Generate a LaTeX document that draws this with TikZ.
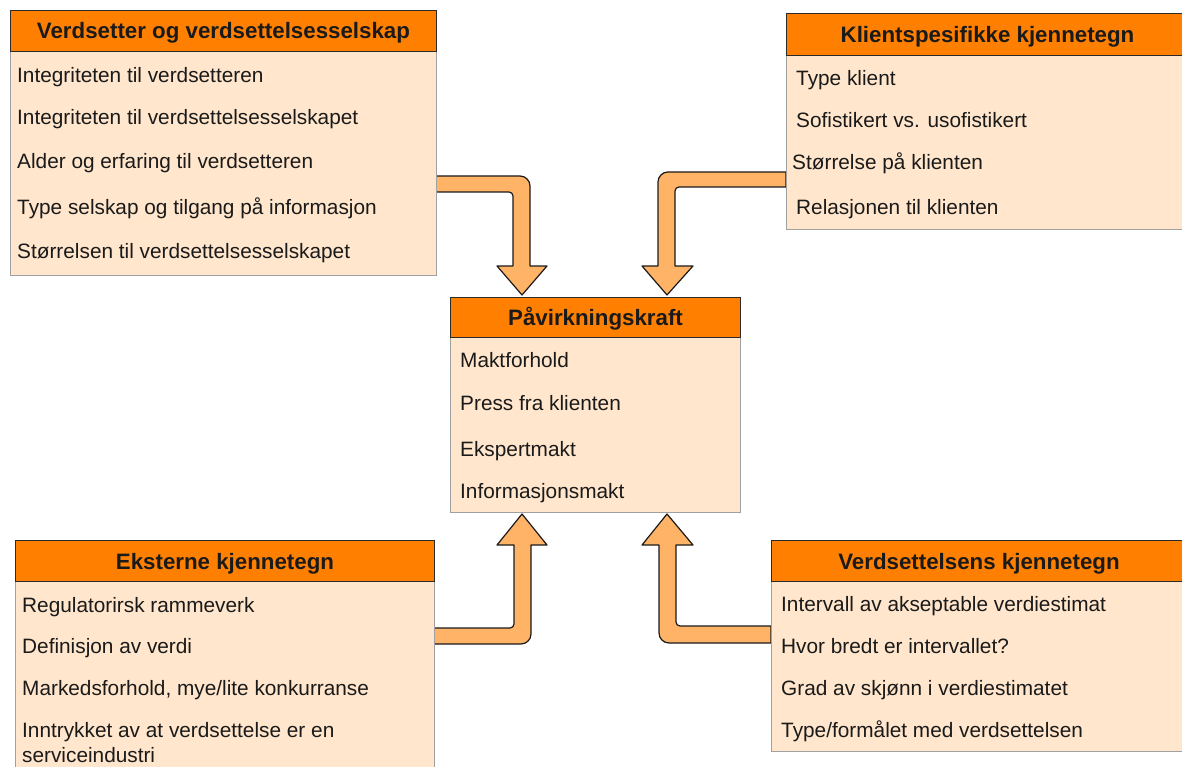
\documentclass[tikz,border=0pt]{standalone}
\usepackage{fontspec}
\setmainfont{Liberation Sans}
\definecolor{hdrfill}{HTML}{FF8000}
\definecolor{hdrline}{HTML}{2B2B2B}
\definecolor{bodyfill}{HTML}{FFE6CC}
\definecolor{bodyline}{HTML}{A0A0A0}
\definecolor{arrfill}{HTML}{FFB366}
\definecolor{arrline}{HTML}{1A1A1A}
\definecolor{txt}{HTML}{1A1A1A}
\tikzset{
  hdr/.style={draw=hdrline, fill=hdrfill, line width=1pt, inner sep=0pt,
    font=\bfseries\fontsize{22.3}{26}\selectfont, text=txt, text height=16pt, text depth=0pt},
  bodybox/.style={draw=bodyline, fill=bodyfill, line width=1pt, inner sep=0pt, anchor=north west},
  item/.style={anchor=west, inner sep=0pt, font=\fontsize{20.8}{25}\selectfont, text=txt,
    text height=15pt, text depth=0pt},
  flex/.style={draw=arrline, fill=arrfill, line width=1.2pt, line join=round},
}
\begin{document}
\begin{tikzpicture}[x=1pt,y=-1pt]
\useasboundingbox (0,0) rectangle (1182,767);
\clip (0,0) rectangle (1182,767);

% ---- arrows (behind boxes) ----
\draw[flex] (480,176) [rounded corners=10pt] -- (530,176) -- (530,240) [sharp corners] -- (530,266)
  -- (547,266) -- (522,295) -- (497,266) -- (513,266) -- (513,240) [rounded corners=4pt]
  -- (513,192) -- (480,192) [sharp corners] -- (436,192) -- (436,176) -- cycle;
\draw[flex] (720,172) [rounded corners=10pt] -- (658,172) -- (658,230) [sharp corners] -- (658,266)
  -- (642,266) -- (667,295) -- (693,266) -- (675,266) -- (675,230) [rounded corners=4pt]
  -- (675,187) -- (720,187) [sharp corners] -- (786,187) -- (786,172) -- cycle;
\draw[flex] (480,644) [rounded corners=10pt] -- (531,644) -- (531,590) [sharp corners] -- (531,545)
  -- (547,545) -- (522,514) -- (497,545) -- (514,545) -- (514,590) [rounded corners=4pt]
  -- (514,628) -- (480,628) [sharp corners] -- (434,628) -- (434,644) -- cycle;
\draw[flex] (720,643) [rounded corners=10pt] -- (659,643) -- (659,590) [sharp corners] -- (659,545)
  -- (642,545) -- (667,514) -- (693,545) -- (676,545) -- (676,590) [rounded corners=4pt]
  -- (676,626) -- (720,626) [sharp corners] -- (771,626) -- (771,643) -- cycle;

% ---- box 1: top left ----
\node[bodybox, minimum width=426pt, minimum height=224pt] (b1) at (10,51) {};
\node[hdr, minimum width=426pt, minimum height=41pt, anchor=north west] (h1) at (10,10) {Verdsetter og verdsettelsesselskap};
\node[item] (b1i1) at (17,75) {Integriteten til verdsetteren};
\node[item] (b1i2) at (17,117) {Integriteten til verdsettelsesselskapet};
\node[item] (b1i3) at (17,161) {Alder og erfaring til verdsetteren};
\node[item] (b1i4) at (17,207) {Type selskap og tilgang på informasjon};
\node[item] (b1i5) at (17,251) {Størrelsen til verdsettelsesselskapet};

% ---- box 2: top right ----
\node[bodybox, minimum width=402pt, minimum height=174pt] (b2) at (786,55) {};
\node[hdr, minimum width=402pt, minimum height=42pt, anchor=north west] (h2) at (786,13) {Klientspesifikke kjennetegn};
\node[item] (b2i1) at (796,78) {Type klient};
\node[item] (b2i2) at (796,120) {Sofistikert vs. usofistikert};
\node[item] (b2i3) at (792,162) {Størrelse på klienten};
\node[item] (b2i4) at (796,207) {Relasjonen til klienten};

% ---- centre box ----
\node[bodybox, minimum width=290pt, minimum height=175pt] (b0) at (450,337) {};
\node[hdr, minimum width=290pt, minimum height=40pt, anchor=north west] (h0) at (450,297) {Påvirkningskraft};
\node[item] (b0i1) at (460,360) {Maktforhold};
\node[item] (b0i2) at (460,403) {Press fra klienten};
\node[item] (b0i3) at (460,449) {Ekspertmakt};
\node[item] (b0i4) at (460,491) {Informasjonsmakt};

% ---- box 3: bottom left ----
\node[bodybox, minimum width=419pt, minimum height=220pt] (b3) at (15,581) {};
\node[hdr, minimum width=419pt, minimum height=41pt, anchor=north west] (h3) at (15,540) {Eksterne kjennetegn};
\node[item] (b3i1) at (22,605) {Regulatorirsk rammeverk};
\node[item] (b3i2) at (22,646) {Definisjon av verdi};
\node[item] (b3i3) at (22,688) {Markedsforhold, mye/lite konkurranse};
\node[anchor=north west, inner sep=0pt, align=left, font=\fontsize{20.8}{24.5}\selectfont, text=txt] (b3i4) at (22,722.5) {Inntrykket av at verdsettelse er en\\serviceindustri};

% ---- box 4: bottom right ----
\node[bodybox, minimum width=415pt, minimum height=170pt] (b4) at (771,581) {};
\node[hdr, minimum width=415pt, minimum height=41pt, anchor=north west] (h4) at (771,540) {Verdsettelsens kjennetegn};
\node[item] (b4i1) at (781,604) {Intervall av akseptable verdiestimat};
\node[item] (b4i2) at (781,646) {Hvor bredt er intervallet?};
\node[item] (b4i3) at (781,688) {Grad av skjønn i verdiestimatet};
\node[item] (b4i4) at (781,730) {Type/formålet med verdsettelsen};
\end{tikzpicture}
\end{document}
